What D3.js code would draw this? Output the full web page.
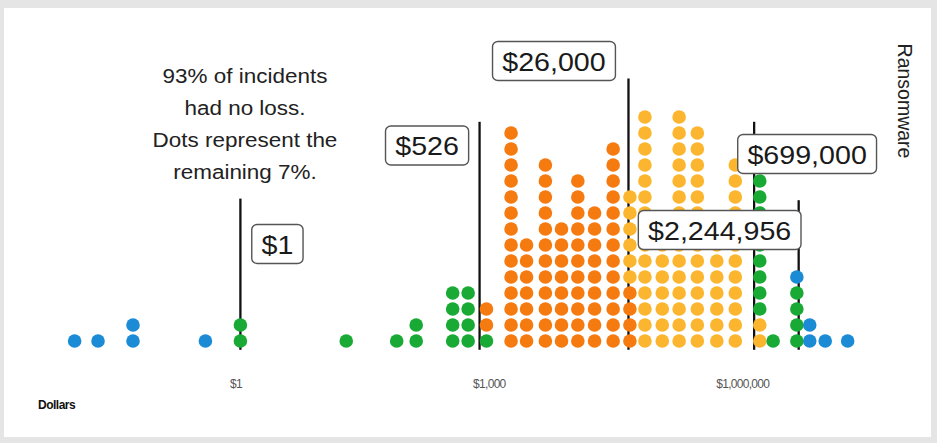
<!DOCTYPE html>
<html>
<head>
<meta charset="utf-8">
<script src="https://cdn.jsdelivr.net/npm/d3@7"></script>
<style>
body{margin:0;background:#e4e5e4;}
svg{display:block;}
text{font-family:"Liberation Sans",Arial,Helvetica,sans-serif;}
</style>
</head>
<body>
<svg id="chart" width="937" height="443"></svg>
<script>
/*
data
one column of dots per bin (dollars), counts per band
*/
var binValues = [0.013, 0.024, 0.06, 0.4, 1, 16, 60, 100, 260, 390, 630,
                 1200, 1800, 2950, 4500, 6900, 10700, 17400, 27000, 40000, 63000,
                 98000, 158000, 263000, 427000, 810000, 1150000, 2140000, 3000000, 4500000, 8100000];
// below $1
var tailLow   = [1,1,2,1,0,0,0,0,0,0,0, 0,0,0,0,0,0,0,0,0,0, 0,0,0,0,0,0,0,0,0,0];
// $1 - $526
var innerLow  = [0,0,0,0,2,1,1,2,4,4,1, 0,0,0,0,0,0,0,0,0,0, 0,0,0,0,0,0,0,0,0,0];
// $526 - $26,000
var lowerMid  = [0,0,0,0,0,0,0,0,0,0,2, 14,7,12,8,11,9,13,4,0,0, 0,0,0,0,0,0,0,0,0,0];
// $26,000 - $699,000
var upperMid  = [0,0,0,0,0,0,0,0,0,0,0, 0,0,0,0,0,0,0,6,15,8, 15,14,7,12,2,0,0,0,0,0];
// $699,000 - $2,244,956
var innerHigh = [0,0,0,0,0,0,0,0,0,0,0, 0,0,0,0,0,0,0,0,0,0, 0,0,0,0,9,1,4,0,0,0];
// above $2,244,956
var tailHigh  = [0,0,0,0,0,0,0,0,0,0,0, 0,0,0,0,0,0,0,0,0,0, 0,0,0,0,0,0,1,2,1,1];

var bands = [tailLow, innerLow, lowerMid, upperMid, innerHigh, tailHigh];
var bandColors = ["#1b8bd6", "#19a935", "#f57a10", "#fbb52e", "#19a935", "#1b8bd6"];

var markerValues = [1, 526, 26000, 699000, 2244956];
var markerTopRows = [8.9, 13.7, 16.4, 13.7, 8.8];
var tickValues = [1, 1000, 1000000];

var noteLines = ["93% of incidents", "had no loss.", "Dots represent the", "remaining 7%."];

// label placement (layout only)
var labelDx = [37, -52.5, -74.5, 53, -79];
var labelCy = [244, 145.5, 61, 154, 230];

var svg = d3.select("#chart");

// white panel
svg.append("rect")
    .attr("x", 4).attr("y", 8)
    .attr("width", 927).attr("height", 429)
    .attr("fill", "#ffffff");

var x = d3.scaleLog().domain([1, 1000000]).range([240.4, 767.8]);
var y = d3.scaleLinear().domain([0, 15]).range([341, 101]);
var money = d3.format("$,");

/*
marker lines (drawn behind the dots)
*/
svg.append("g").selectAll("line")
    .data(markerValues)
    .enter().append("line")
    .attr("x1", function(d){ return x(d); })
    .attr("x2", function(d){ return x(d); })
    .attr("y1", y(-0.55))
    .attr("y2", function(d, i){ return y(markerTopRows[i]); })
    .attr("stroke", "#111")
    .attr("stroke-width", 2.3);

/*
dots: stack every band in value order inside its column
*/
var dots = [];
for (var i = 0; i < binValues.length; i++){
	var k = 0;
	for (var b = 0; b < bands.length; b++){
		for (var n = 0; n < bands[b][i]; n++){
			dots.push({v: binValues[i], row: k, color: bandColors[b]});
			k++;
		}
	}
}

svg.append("g").selectAll("circle")
    .data(dots)
    .enter().append("circle")
    .attr("cx", function(d){ return x(d.v); })
    .attr("cy", function(d){ return y(d.row); })
    .attr("r", 6.8)
    .attr("fill", function(d){ return d.color; });

/*
value boxes
*/
markerValues.forEach(function(v, i){
	var g = svg.append("g")
	    .attr("transform", "translate(" + (x(v) + labelDx[i]) + "," + labelCy[i] + ") scale(1.08,1)");
	var t = g.append("text")
	    .attr("y", 9.5)
	    .attr("text-anchor", "middle")
	    .attr("font-size", 26.5)
	    .attr("fill", "#1a1a1a")
	    .text(money(v));
	var bb = t.node().getBBox();
	g.insert("rect", "text")
	    .attr("x", bb.x - 9)
	    .attr("y", -19.5)
	    .attr("width", bb.width + 18)
	    .attr("height", 39)
	    .attr("rx", 5)
	    .attr("fill", "#fff")
	    .attr("stroke", "#555")
	    .attr("stroke-width", 1.3);
});

/*
note text
*/
noteLines.forEach(function(s, i){
	svg.append("text")
	    .attr("transform", "translate(245," + (83 + i * 32) + ") scale(1.07,1)")
	    .attr("text-anchor", "middle")
	    .attr("font-size", 21)
	    .attr("fill", "#222")
	    .text(s);
});

// row title
svg.append("text")
    .attr("transform", "translate(898,101) rotate(90)")
    .attr("text-anchor", "middle")
    .attr("font-size", 19.5)
    .attr("fill", "#222")
    .text("Ransomware");

/*
axis
*/
var axis = svg.append("g")
    .attr("transform", "translate(0,371)")
    .call(d3.axisBottom(x).tickValues(tickValues).tickFormat(money).tickSize(0).tickPadding(8));
axis.select(".domain").remove();
axis.selectAll("text")
    .attr("text-anchor", "end")
    .attr("dx", 1)
    .attr("font-size", 12)
    .attr("letter-spacing", -0.7)
    .attr("fill", "#555");

svg.append("text")
    .attr("x", 38).attr("y", 409)
    .attr("font-size", 12)
    .attr("font-weight", "bold")
    .attr("letter-spacing", -0.5)
    .attr("fill", "#111")
    .text("Dollars");
</script>
</body>
</html>
